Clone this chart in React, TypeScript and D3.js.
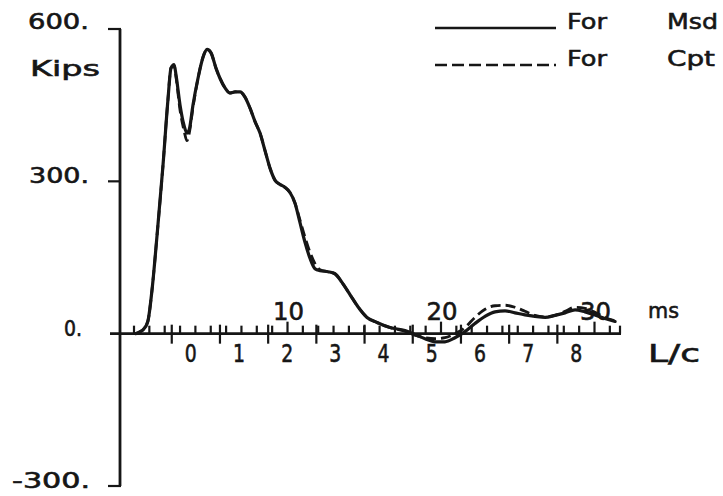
import React from 'react';
import * as d3 from 'd3';

// ---- data ----
const timeMs = [0.1, 0.4, 0.6, 0.9, 1.17, 1.5, 1.89, 2.21, 2.41, 2.61, 2.74, 3.0, 3.26, 3.45, 3.6, 3.84, 4.17, 4.5, 4.76, 5.02, 5.34, 5.6, 5.93, 6.25, 6.58, 6.91, 7.23, 7.56, 7.88, 8.21, 8.53, 8.86, 9.19, 9.51, 9.84, 10.16, 10.49, 10.81, 11.14, 11.47, 11.79, 12.12, 12.64, 13.09, 13.55, 14.07, 14.59, 15.18, 15.83, 16.68, 17.65, 18.31, 18.96, 19.61, 20.26, 20.91, 21.56, 22.21, 22.87, 23.52, 24.17, 24.82, 25.47, 26.12, 26.78, 27.43, 28.08, 28.73, 29.38, 30.03, 30.68, 31.34];
const msdKips = [0, 4, 8, 24, 85, 193, 332, 460, 523, 530, 509, 450, 410, 395, 402, 450, 503, 545, 560, 553, 523, 503, 484, 474, 476, 476, 466, 444, 418, 395, 361, 326, 302, 294, 288, 278, 257, 219, 180, 148, 128, 124, 122, 118, 101, 77, 53, 32, 22, 12, 6, -2, -10, -16, -16, -8, 4, 20, 34, 43, 45, 41, 37, 34, 32, 36, 41, 47, 43, 37, 30, 24];
const cptKips = [0, 4, 8, 24, 85, 193, 332, 460, 523, 528, 505, 440, 400, 380, 395, 445, 503, 545, 560, 553, 523, 503, 484, 474, 476, 476, 466, 444, 418, 395, 361, 326, 302, 294, 288, 278, 257, 224, 190, 160, 138, 126, 122, 118, 101, 77, 53, 32, 22, 12, 5, -3, -8, -10, -8, 0, 12, 32, 48, 55, 56, 52, 44, 36, 33, 36, 44, 52, 50, 42, 32, 25];

const msTickValues = d3.range(0, 32);
const msLabelValues = [10, 20, 30];
const lcLabels = ['0', '1', '2', '3', '4', '5', '6', '7', '8'];
const yTickValues = [600, 300, 0, -300];
const yTickLabels = ['600.', '300.', '0.', '-300.'];
const seriesNames = ['For   Msd', 'For   Cpt'];

const INK = '#161616';
const FONT = '"DejaVu Sans", "Liberation Sans", sans-serif';
const TXT = { fill: INK, stroke: INK, strokeWidth: 0.6 };

export default function App() {
  const x = d3.scaleLinear().domain([0, 10]).range([134, 287.5]);
  const y = d3.scaleLinear().domain([-300, 600]).range([486, 29]);
  const lcToMs = d3.scaleLinear().domain([0, 1]).range([2.46, 5.6]);

  const line = d3
    .line<number>()
    .x((_, i) => x(timeMs[i]))
    .y((d) => y(d))
    .curve(d3.curveMonotoneX);

  const axisY = y(0);
  const yLabelBoxes = [
    { end: 89, w: 61 },
    { end: 89, w: 60 },
    { end: 82, w: 18 },
    { end: 90, w: 78 },
  ];

  return (
    <svg
      width={723}
      height={496}
      style={{ position: 'absolute', left: 0, top: 0, background: '#fff' }}
      fontFamily={FONT}
    >
      <rect x={0} y={0} width={723} height={496} fill="#fff" />
      {/* y axis */}
      <line x1={120} x2={120} y1={y(600)} y2={y(-300)} stroke={INK} strokeWidth={2.8} />
      {yTickValues.map((v, i) => (
        <g key={v}>
          {v !== 0 && (
            <line x1={108} x2={121} y1={y(v)} y2={y(v)} stroke={INK} strokeWidth={2.2} />
          )}
          <text
            x={yLabelBoxes[i].end - yLabelBoxes[i].w}
            y={y(v) + (v === 600 ? 0 : 2)}
            fontSize={21}
            {...TXT}
            textLength={yLabelBoxes[i].w}
            lengthAdjust="spacingAndGlyphs"
          >
            {yTickLabels[i]}
          </text>
        </g>
      ))}
      <text x={30} y={76} fontSize={21} {...TXT} textLength={70} lengthAdjust="spacingAndGlyphs">
        Kips
      </text>

      {/* x axis */}
      <line x1={110} x2={621} y1={axisY} y2={axisY} stroke={INK} strokeWidth={2.8} />
      {msTickValues.map((t) => (
        <line
          key={'ms' + t}
          x1={x(t)}
          x2={x(t)}
          y1={axisY}
          y2={axisY - (t % 10 === 0 && t > 0 ? 12 : 8)}
          stroke={INK}
          strokeWidth={2.2}
        />
      ))}
      <line x1={620} x2={620} y1={axisY} y2={axisY - 8} stroke={INK} strokeWidth={2.2} />
      {msLabelValues.map((t) => (
        <text
          key={'msl' + t}
          x={x(t) + 1}
          y={320}
          fontSize={24}
          {...TXT}
          textAnchor="middle"
          textLength={31}
          lengthAdjust="spacingAndGlyphs"
        >
          {String(t)}
        </text>
      ))}
      {lcLabels.map((lab, k) => {
        const px = x(lcToMs(k));
        return (
          <g key={'lc' + k}>
            <line x1={px} x2={px} y1={axisY - 9} y2={axisY + 10} stroke={INK} strokeWidth={2.2} />
            <text
              x={px + 19}
              y={362}
              fontSize={24}
              {...TXT}
              textAnchor="middle"
              textLength={12}
              lengthAdjust="spacingAndGlyphs"
            >
              {lab}
            </text>
          </g>
        );
      })}
      <text x={648} y={318} fontSize={22} {...TXT} textLength={31} lengthAdjust="spacingAndGlyphs">
        ms
      </text>
      <text x={648} y={362} fontSize={24} {...TXT} textLength={52} lengthAdjust="spacingAndGlyphs">
        L/c
      </text>

      {/* curves */}
      <path
        d={line(cptKips) || ''}
        fill="none"
        stroke={INK}
        strokeWidth={2.8}
        strokeDasharray="10 5"
        strokeLinejoin="round"
      />
      <path
        d={line(msdKips) || ''}
        fill="none"
        stroke={INK}
        strokeWidth={3.2}
        strokeLinejoin="round"
        strokeLinecap="round"
      />

      {/* legend */}
      {seriesNames.map((name, i) => {
        const [a, b] = name.split(/\s+/);
        const ly = i === 0 ? 28 : 65;
        const by = i === 0 ? 29 : 66;
        return (
          <g key={name}>
            <line
              x1={435}
              x2={556}
              y1={ly}
              y2={ly}
              stroke={INK}
              strokeWidth={2.4}
              strokeDasharray={i === 0 ? undefined : '12 5'}
            />
            <text x={567} y={by} fontSize={22} {...TXT} textLength={40} lengthAdjust="spacingAndGlyphs">
              {a}
            </text>
            <text
              x={667}
              y={by}
              fontSize={22}
              {...TXT}
              textLength={i === 0 ? 51 : 48}
              lengthAdjust="spacingAndGlyphs"
            >
              {b}
            </text>
          </g>
        );
      })}
    </svg>
  );
}
